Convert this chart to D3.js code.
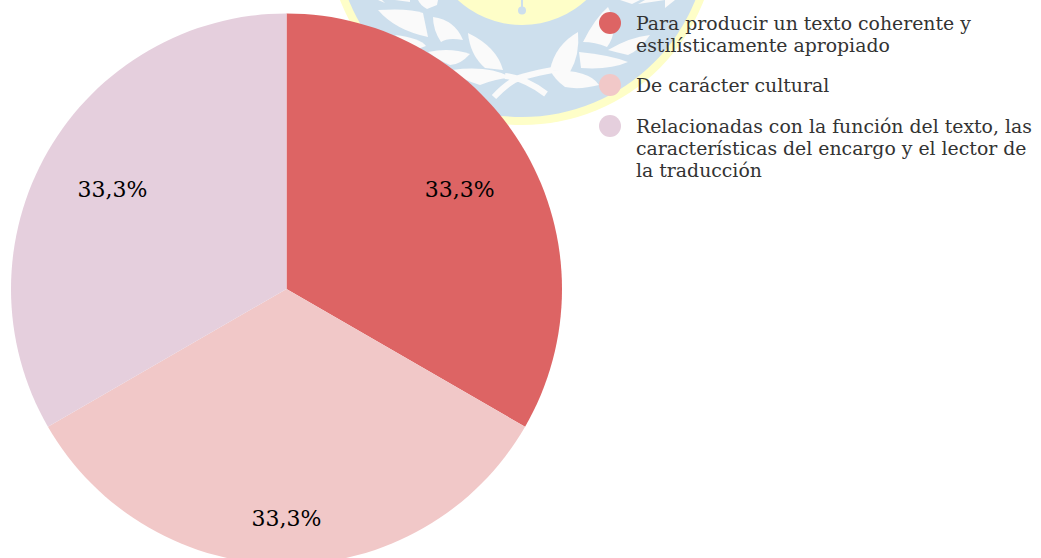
<!DOCTYPE html>
<html><head><meta charset="utf-8">
<script src="https://cdn.jsdelivr.net/npm/d3@7"></script>
<style>html,body{margin:0;padding:0;background:#fff}svg{display:block}</style>
</head><body><svg id="c" width="1041" height="558"></svg>
<script>
const categories=["Para producir un texto coherente y|estilísticamente apropiado","De carácter cultural","Relacionadas con la función del texto, las|características del encargo y el lector de|la traducción"];
const values=[33.3,33.3,33.3];
const colors=["#dd6464","#f1c8c8","#e5cfdd"];
const labels=["33,3%","33,3%","33,3%"];
const labelRadius=[200,229,201];
const legendY=[23,85,126];
const font="'DejaVu Serif','Liberation Serif',serif";
const leafShapes=[
"M378,10Q410,8 423,13L428,37Q395,30 378,10Z",
"M433,17Q455,20 463,40Q448,37 441,42Q433,30 433,17Z",
"M468,33Q497,47 503,70L485,68Q470,55 468,33Z",
"M428,52Q450,47 470,54Q460,65 450,65Q438,60 428,52Z",
"M452,70Q490,65 512,78Q498,78 480,85Q462,80 452,70Z",
"M395,35Q420,38 426,46L415,50Z",
"M550,70Q555,45 578,32Q580,55 570,72Z",
"M550,70Q590,70 599,85Q580,90 565,87Q555,80 550,70Z",
"M579,52Q610,55 628,62Q610,70 581,68Z",
"M583,42Q595,18 608,7Q620,30 607,47Q595,42 583,42Z",
"M608,50Q630,37 650,35Q640,50 628,55Q615,52 608,50Z",
"M620,0L632,4L640,0Z","M638,4L665,0L645,0Z","M665,8L675,0L665,0Z",
"M378,0L385,3L382,0Z","M395,0L410,2L410,0Z","M418,0L438,0L437,5L427,9Q420,5 418,0Z"
];
const ribbons=["M494,97Q510,80 522,77Q540,72 553,70","M505,76Q525,78 546,94"];
const svg=d3.select("#c");
// watermark
const wm=svg.append("g");
const wc=wm.append("g").attr("transform","translate(522,-70)");
wc.append("circle").attr("r",195).attr("fill","#fefec8");
wc.append("circle").attr("r",187).attr("fill","#cddfed");
wc.append("circle").attr("r",95).attr("fill","#fefec8");
wm.append("rect").attr("x",521).attr("y",0).attr("width",2).attr("height",9).attr("fill","#cddfed");
wm.append("circle").attr("cx",522).attr("cy",10.5).attr("r",4).attr("fill","#cddfed");
wm.selectAll("path.l").data(leafShapes).join("path").attr("class","l").attr("d",d=>d).attr("fill","#fafafa");
wm.selectAll("path.r").data(ribbons).join("path").attr("class","r").attr("d",d=>d).attr("fill","none").attr("stroke","#fafafa").attr("stroke-width",6);
// pie
const cx=286.5,cy=289,R=275.5;
const pie=d3.pie().sort(null).value(d=>d);
const arc=d3.arc().innerRadius(0).outerRadius(R);
const g=svg.append("g").attr("transform",`translate(${cx},${cy})`);
const arcs=pie(values);
g.selectAll("path").data(arcs).join("path").attr("d",arc).attr("fill",(d,i)=>colors[i]);
g.selectAll("text").data(arcs).join("text")
 .attr("transform",(d,i)=>`translate(${d3.arc().innerRadius(labelRadius[i]).outerRadius(labelRadius[i]).centroid(d)})`)
 .attr("text-anchor","middle").attr("dominant-baseline","middle").attr("dy",2)
 .style("font-family",font).style("font-size","22px").attr("fill","#000").text((d,i)=>labels[i]);
// legend
const leg=svg.append("g").selectAll("g").data(categories).join("g").attr("transform",(d,i)=>`translate(610,${legendY[i]})`);
leg.append("circle").attr("r",11).attr("fill",(d,i)=>colors[i]);
leg.each(function(d){
 const t=d3.select(this).append("text").style("font-family",font).style("font-size","18.85px").attr("fill","#333");
 d.split("|").forEach((s,j)=>t.append("tspan").attr("x",26).attr("y",6.5+j*22).text(s));
});
</script></body></html>
